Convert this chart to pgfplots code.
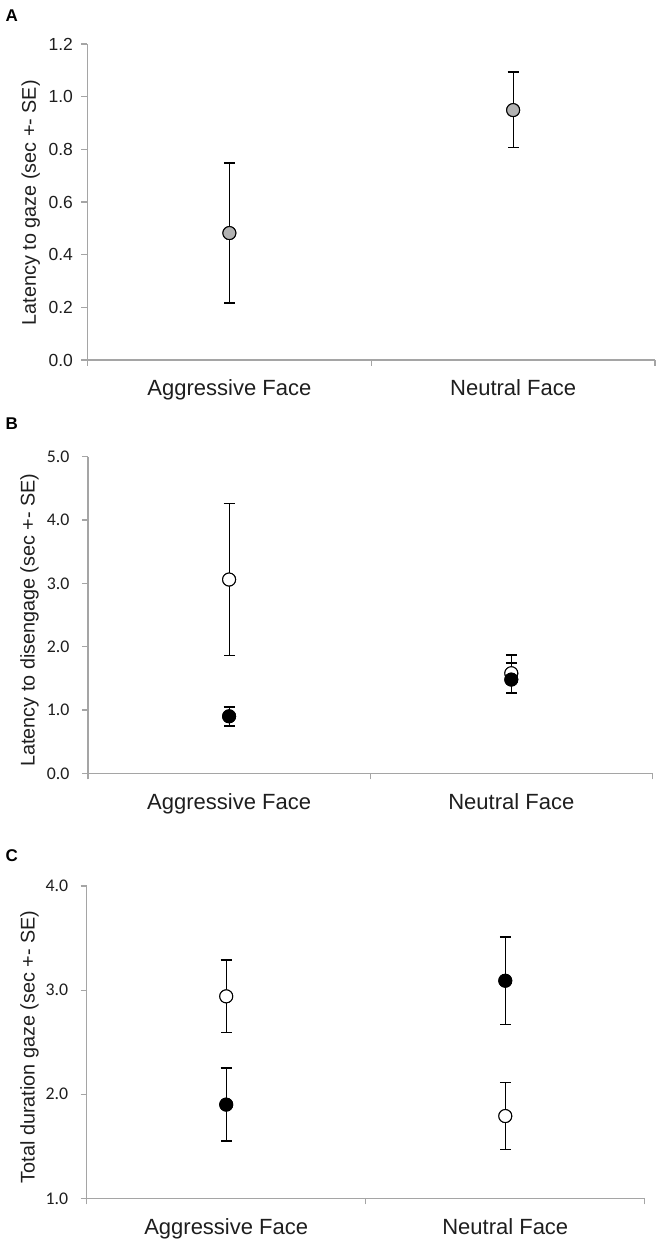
\documentclass[border=0pt]{standalone}
\usepackage{fontspec}
\setmainfont{Liberation Sans}
\newfontfamily\carlito{Carlito}
\usepackage{pgfplots}
\usepackage{pgfplotstable}
\pgfplotsset{compat=1.18}
\definecolor{axgray}{RGB}{165,165,165}
\definecolor{ptgray}{RGB}{178,178,178}
\definecolor{txt}{RGB}{30,30,30}

\pgfplotstableread{
x y ep em
0.5 0.482 0.266 0.266
1.5 0.949 0.144 0.143
}\tabA
\pgfplotstableread{
x y ep em
0.5 3.06 1.20 1.20
1.5 1.58 0.29 0.30
}\tabBopen
\pgfplotstableread{
x y ep em
0.5 0.90 0.15 0.15
1.5 1.48 0.26 0.22
}\tabBfilled
\pgfplotstableread{
x y ep em
0.5 2.94 0.35 0.35
1.5 1.79 0.32 0.32
}\tabCopen
\pgfplotstableread{
x y ep em
0.5 1.90 0.35 0.35
1.5 3.09 0.42 0.42
}\tabCfilled

\pgfplotsset{
  panel/.style={
    scale only axis, anchor=south west,
    xmin=0, xmax=2,
    axis x line=bottom, axis y line=left,
    axis line style={-, draw=axgray, line width=1.1pt},
    tick align=outside,
    major tick length=6pt,
    tick style={draw=axgray, line width=1.1pt},
    xtick={0,1,2}, xticklabels={},
    extra x ticks={0.5,1.5},
    extra x tick labels={Aggressive Face, Neutral Face},
    extra x tick style={tick style={draw=none}},
    xticklabel style={font=\fontsize{22}{26}\selectfont, text=txt, anchor=base, yshift=-30pt},
    /pgf/number format/assume math mode=true,
    /pgf/number format/.cd, fixed, fixed zerofill, precision=1, /pgfplots/.cd,
    ylabel style={font=\fontsize{19.8}{23}\selectfont, text=txt, anchor=center},
    clip=false,
  },
  errs/.style={only marks, mark=*, mark size=6.5pt,
    mark options={draw=black, line width=1pt, fill=#1},
    error bars/.cd, y dir=both, y explicit,
    error bar style={line width=1.2pt, draw=black},
    error mark options={rotate=90, mark size=5.5pt, line width=1.4pt, draw=black}},
  pts/.style={only marks, mark=*, mark size=6.5pt,
    mark options={draw=black, line width=1pt, fill=#1}},
}

\begin{document}
\begin{tikzpicture}
\useasboundingbox (0pt,0pt) rectangle (664pt,1245pt);

% Panel A
\begin{axis}[panel, at={(87.5pt,885pt)}, width=567.5pt, height=316pt,
  ymin=0, ymax=1.2, ytick={0,0.2,0.4,0.6,0.8,1.0,1.2},
  yticklabel style={font=\fontsize{17.5}{20}\selectfont, text=txt, xshift=-5pt},
  ylabel={Latency to gaze (sec +- SE)},
  ylabel style={at={(axis description cs:-0.100,0.498)}}]
\addplot[errs=ptgray] table[x=x, y=y, y error plus=ep, y error minus=em] {\tabA};
\addplot[pts=ptgray] table[x=x, y=y] {\tabA};
\end{axis}

% Panel B
\begin{axis}[panel, at={(88pt,471.7pt)}, width=564.4pt, height=316.6pt,
  ymin=0, ymax=5, ytick={0,1,2,3,4,5},
  yticklabel style={font=\carlito\fontsize{17.8}{20}\selectfont, text=txt, xshift=-9pt},
  ylabel={Latency to disengage (sec +- SE)},
  ylabel style={at={(axis description cs:-0.1035,0.484)}}]
\addplot[errs=white] table[x=x, y=y, y error plus=ep, y error minus=em] {\tabBopen};
\addplot[pts=white] table[x=x, y=y] {\tabBopen};
\addplot[errs=black] table[x=x, y=y, y error plus=ep, y error minus=em] {\tabBfilled};
\addplot[pts=black] table[x=x, y=y] {\tabBfilled};
\end{axis}

% Panel C
\begin{axis}[panel, at={(86.7pt,46.7pt)}, width=558.1pt, height=312.3pt,
  ymin=1, ymax=4, ytick={1,2,3,4},
  yticklabel style={font=\carlito\fontsize{17.8}{20}\selectfont, text=txt, xshift=-9pt},
  ylabel={Total duration gaze (sec +- SE)},
  ylabel style={at={(axis description cs:-0.1023,0.485)}}]
\addplot[errs=white] table[x=x, y=y, y error plus=ep, y error minus=em] {\tabCopen};
\addplot[pts=white] table[x=x, y=y] {\tabCopen};
\addplot[errs=black] table[x=x, y=y, y error plus=ep, y error minus=em] {\tabCfilled};
\addplot[pts=black] table[x=x, y=y] {\tabCfilled};
\end{axis}

\node[anchor=base west, inner sep=0pt, font=\bfseries\fontsize{17}{20}\selectfont] at (5.5pt,1223pt) {A};
\node[anchor=base west, inner sep=0pt, font=\bfseries\fontsize{17}{20}\selectfont] at (5.5pt,815pt) {B};
\node[anchor=base west, inner sep=0pt, font=\bfseries\fontsize{17}{20}\selectfont] at (5.5pt,383pt) {C};
\end{tikzpicture}
\end{document}
